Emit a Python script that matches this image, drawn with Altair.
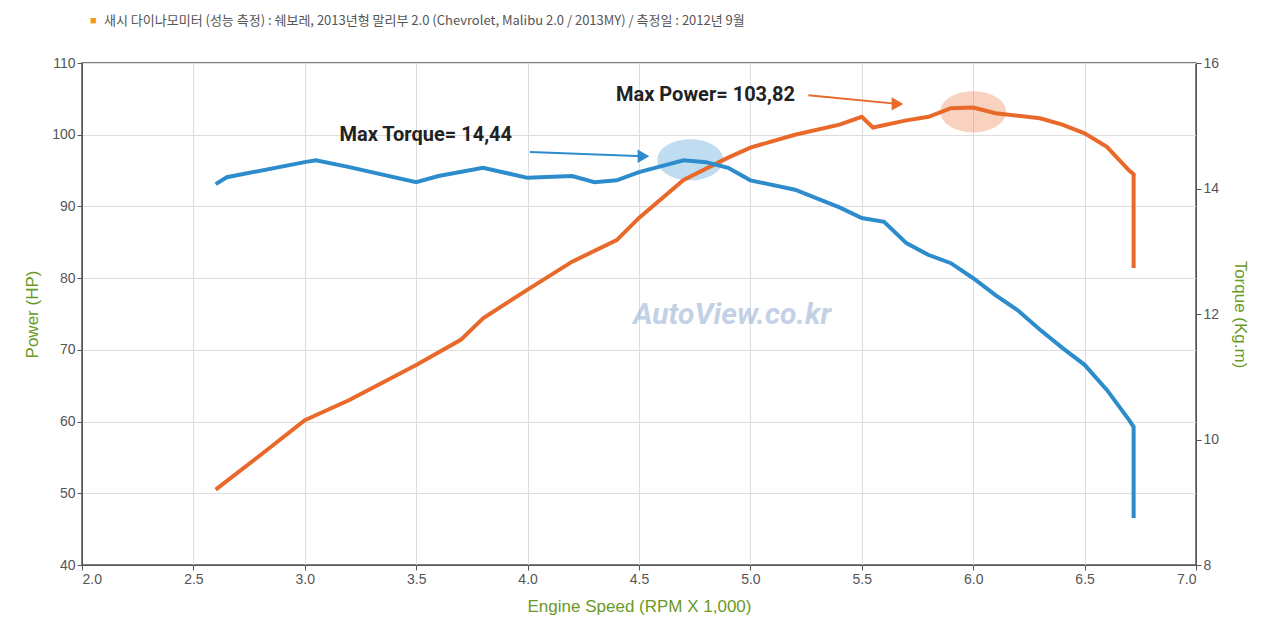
import altair as alt
import pandas as pd

rpm_power = [2.6, 2.8, 3.0, 3.2, 3.5, 3.7, 3.8, 4.0, 4.2, 4.4, 4.5, 4.7, 4.9, 5.0, 5.2, 5.4,
             5.5, 5.55, 5.7, 5.8, 5.9, 6.0, 6.1, 6.3, 6.4, 6.5, 6.6, 6.7, 6.72, 6.72]
power_hp = [50.5, 55.3, 60.2, 63.0, 67.9, 71.4, 74.4, 78.4, 82.3, 85.3, 88.4, 93.7, 96.8, 98.2,
            100.0, 101.4, 102.5, 101.0, 102.0, 102.5, 103.7, 103.8, 103.0, 102.3, 101.4, 100.2,
            98.3, 95.0, 94.5, 81.4]

rpm_torque = [2.6, 2.65, 3.0, 3.05, 3.2, 3.5, 3.6, 3.8, 4.0, 4.2, 4.3, 4.4, 4.5, 4.7, 4.8, 4.9,
              5.0, 5.2, 5.4, 5.5, 5.6, 5.7, 5.8, 5.9, 6.0, 6.1, 6.2, 6.3, 6.4, 6.5, 6.6, 6.7,
              6.72, 6.72]
torque_kgm = [14.07, 14.18, 14.42, 14.45, 14.34, 14.10, 14.20, 14.33, 14.17, 14.20, 14.10,
              14.13, 14.26, 14.45, 14.42, 14.33, 14.13, 13.98, 13.70, 13.53, 13.47, 13.13,
              12.94, 12.81, 12.57, 12.30, 12.06, 11.75, 11.46, 11.19, 10.79, 10.31, 10.2, 8.75]

labels = ["Max Power= 103,82", "Max Torque= 14,44"]
label_rpm = [5.2, 3.93]
label_hp = [105.6, 100.0]

ORANGE = "#e8692a"
BLUE = "#2d8ccc"
GREEN = "#6a9a1f"
FONT = "Roboto"

XS = alt.Scale(domain=[2, 7], nice=False, zero=False)
YS = alt.Scale(domain=[40, 110], nice=False, zero=False)

pw = pd.DataFrame({"rpm": rpm_power, "hp": power_hp, "i": range(len(rpm_power))})
tq = pd.DataFrame({"rpm": rpm_torque, "t": torque_kgm, "i": range(len(rpm_torque))})

x = alt.X("rpm:Q", scale=XS,
          axis=alt.Axis(title="Engine Speed (RPM X 1,000)", values=[2, 2.5, 3, 3.5, 4, 4.5, 5, 5.5, 6, 6.5, 7],
                        format=".1f", titleColor=GREEN, titleFontSize=17, titleFontWeight="normal",
                        labelColor="#555", labelFontSize=14, gridColor="#ddd", domainColor="#555",
                        tickColor="#555", titlePadding=12))
yp = alt.Y("hp:Q", scale=YS,
           axis=alt.Axis(title="Power (HP)", values=list(range(40, 111, 10)), titleColor=GREEN,
                         titleFontSize=17, titleFontWeight="normal", labelColor="#555", labelFontSize=14,
                         gridColor="#ddd", domainColor="#555", tickColor="#555", titlePadding=10))

power_line = alt.Chart(pw).mark_line(color=ORANGE, strokeWidth=4).encode(x=x, y=yp, order="i:Q")

ell = pd.DataFrame({"rpm": [4.73, 6.0], "hp": [96.5, 103.2], "c": [BLUE, ORANGE]})
ellipse = alt.Chart(ell).mark_point(
    shape="M -1.6 0 A 1.6 1 0 1 0 1.6 0 A 1.6 1 0 1 0 -1.6 0 Z", filled=True, size=1700, opacity=0.3
).encode(x=alt.X("rpm:Q", scale=XS), y=alt.Y("hp:Q", scale=YS), color=alt.Color("c:N", scale=None))

arrows = pd.DataFrame({"rpm": [5.26, 4.01], "hp": [105.5, 97.6], "rpm2": [5.66, 4.52],
                       "hp2": [104.3, 97.0], "c": [ORANGE, BLUE]})
arrow_line = alt.Chart(arrows).mark_rule(strokeWidth=2).encode(
    x=alt.X("rpm:Q", scale=XS), y=alt.Y("hp:Q", scale=YS), x2="rpm2:Q", y2="hp2:Q",
    color=alt.Color("c:N", scale=None))
arrow_head = alt.Chart(arrows).mark_point(shape="triangle-right", filled=True, size=180, opacity=1).encode(
    x=alt.X("rpm2:Q", scale=XS), y=alt.Y("hp2:Q", scale=YS), color=alt.Color("c:N", scale=None))

lab = pd.DataFrame({"rpm": label_rpm, "hp": label_hp, "text": labels})
label_text = alt.Chart(lab).mark_text(font=FONT, fontSize=20, fontWeight="bold", color="#222",
                                      align="right").encode(
    x=alt.X("rpm:Q", scale=XS), y=alt.Y("hp:Q", scale=YS), text="text:N")

watermark = alt.Chart(pd.DataFrame({"t": ["AutoView.co.kr"]})).mark_text(
    font=FONT, fontSize=30, fontWeight="bold", fontStyle="italic", color="#9bb4d6", opacity=0.6
).encode(x=alt.value(650), y=alt.value(252), text="t:N")

title = alt.Chart(pd.DataFrame({"t": ["새시 다이나모미터 (성능 측정) : 쉐보레, 2013년형 말리부 2.0 (Chevrolet, Malibu 2.0 / 2013MY) / 측정일 : 2012년 9월"]})).mark_text(
    font="Noto Sans CJK KR", fontSize=13, color="#555", align="left"
).encode(x=alt.value(22), y=alt.value(-42), text="t:N")
square = alt.Chart(pd.DataFrame({"t": ["■"]})).mark_text(fontSize=11, color="#f39a1e", align="left").encode(
    x=alt.value(8), y=alt.value(-42), text="t:N")

yt = alt.Y("t:Q", scale=alt.Scale(domain=[8, 16], nice=False, zero=False),
           axis=alt.Axis(title="Torque (Kg.m)", orient="right", values=[8, 10, 12, 14, 16], grid=False,
                         titleColor=GREEN, titleFontSize=17, titleFontWeight="normal", labelColor="#555",
                         labelFontSize=14, domainColor="#555", tickColor="#555", titlePadding=12))
torque_line = alt.Chart(tq).mark_line(color=BLUE, strokeWidth=4).encode(x=x, y=yt, order="i:Q")

left = alt.layer(ellipse, power_line, arrow_line, arrow_head, label_text, watermark, title, square)
chart = alt.layer(left, torque_line).resolve_scale(y="independent").properties(
    width=1114, height=502, autosize="none",
    padding={"left": 74, "top": 55, "right": 76, "bottom": 70},
).configure_view(stroke="#555", strokeWidth=1.5)

chart.save("out.html", embed_options={"renderer": "svg", "actions": False})
